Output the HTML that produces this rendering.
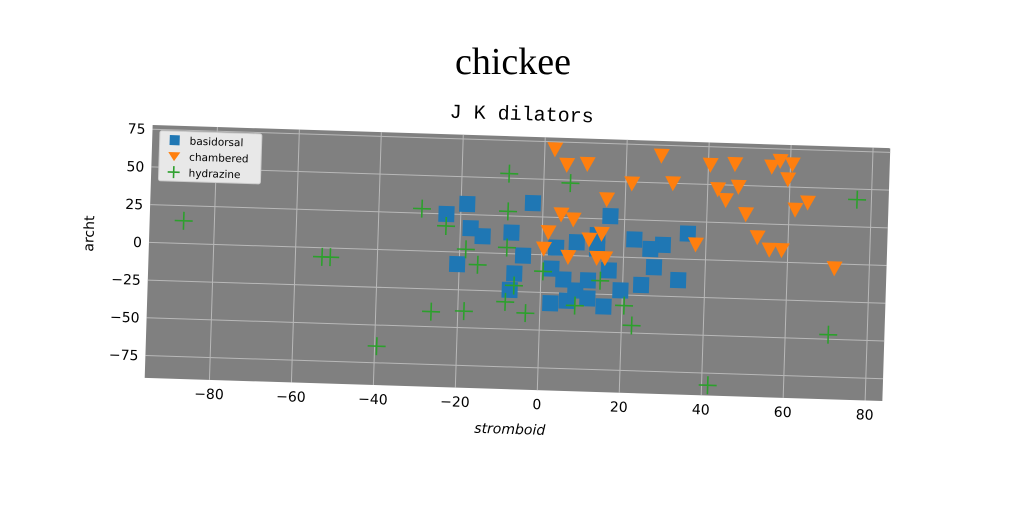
<!DOCTYPE html>
<html><head><meta charset="utf-8"><style>
html,body{margin:0;padding:0;background:#fff;width:1024px;height:512px;overflow:hidden}
text{font-family:"DejaVu Sans","Liberation Sans",sans-serif}
</style></head><body>
<svg id="chart" width="1024" height="512" xmlns="http://www.w3.org/2000/svg">
<text x="513" y="74" text-anchor="middle" font-size="38" style="font-family:'Liberation Serif',serif">chickee</text>
<g id="plot" transform="rotate(1.8 517.5 263)"></g>
</svg>
<script>
const xTicks=[-80,-60,-40,-20,0,20,40,60,80];
const yTicks=[-75,-50,-25,0,25,50,75];
const basX=[-23.5,-18.5,-17.5,-14.5,-20.5,-7.5,-2.5,-4.5,-6.5,-7.5,2.5,5.5,2.5,6.5,8.5,11.5,13.5,16.5,13.5,15.5,16.5,19.5,22.5,24.5,27.5,29.5,33.5,35.5,26.5,3.5,8.5,11.5];
const basY=[25,32,16,11,-8,14,34,-1,-13,-24,-9,-16,-32,-30,-23,-16,14,27,5,-33,-9,-22,12,-18,-6,9,-14,17,6,5,9,-28];
const chaX=[2.5,5.5,10.5,15.5,21.5,28.5,31.5,40.5,42.5,46.5,47.5,44.5,49.5,55.5,57.5,60.5,59.5,61.5,64.5,52.5,55.5,58.5,71.5,4.5,7.5,0.5,1.5,6.5,11.5,13.5,15.5,14.5,37.5];
const chaY=[70,60,61,38,49,68,50,63,47,64,49,40,31,63,67,65,55,35,40,16,8,8,-3,27,24,4,15,-1,11,-1,-1,15,10];
const hydX=[-87.5,-53.5,-51.5,-39.5,-26.5,-18.5,-29.5,-23.5,-18.5,-15.5,-8.5,-8.5,-8.5,-6.5,-3.5,0.5,6.5,8.5,14.5,20.5,22.5,41.5,70.5,76.5,-8.5];
const hydY=[15,-6,-6,-64,-40,-39,28,17,2,-8,53,28,4,-21,-39,-11,48,-33,-16,-32,-45,-83,-47,43,-32];
const L=148.5,R=886.5,T=136.5,B=389.5,X0=-95.8,X1=84.2,Y0=-89.8,Y1=77.8;
const sx=v=>L+(v-X0)/(X1-X0)*(R-L);
const sy=v=>B-(v-Y0)/(Y1-Y0)*(B-T);
const NS="http://www.w3.org/2000/svg";
const g=document.getElementById('plot');
function el(t,a,p){const e=document.createElementNS(NS,t);for(const k in a)e.setAttribute(k,a[k]);(p||g).appendChild(e);return e;}
const bg=el('rect',{x:L,y:T,width:R-L,height:B-T,fill:'#808080'});


xTicks.forEach(v=>{
 const l=el('line',{x1:sx(v),x2:sx(v),y1:T,y2:B,stroke:'#b8b8b8','stroke-width':1});
 
 
 const t=el('text',{x:sx(v),y:B+19,'text-anchor':'middle','font-size':14});
 t.textContent=v<0?'\u2212'+(-v):v;
 
 
});
yTicks.forEach(v=>{
 const l=el('line',{x1:L,x2:R,y1:sy(v),y2:sy(v),stroke:'#b8b8b8','stroke-width':1});
 
 
 const t=el('text',{x:L-7,y:sy(v)+5,'text-anchor':'end','font-size':14});
 t.textContent=v<0?'\u2212'+(-v):v;
 
 
});
basX.forEach((v,i)=>{
 const m=el('rect',{x:sx(v)-8,y:sy(basY[i])-8,width:16,height:16,fill:'#1f77b4'});
 
 
});
chaX.forEach((v,i)=>{
 const x=sx(v),y=sy(chaY[i]);
 const m=el('polygon',{points:`${x-8},${y-7} ${x+8},${y-7} ${x},${y+8}`,fill:'#ff7f0e'});
 
 
});
hydX.forEach((v,i)=>{
 const x=sx(v),y=sy(hydY[i]);
 const m=el('path',{d:`M${x-9},${y}H${x+9}M${x},${y-9}V${y+9}`,stroke:'#2ca02c','stroke-width':1.6,fill:'none'});
 
 
});
const lg=el('g',{});


el('rect',{x:156,y:142,width:102,height:50,fill:'#e8e8e8',stroke:'#ccc',rx:2},lg);
el('rect',{x:166,y:146,width:10,height:10,fill:'#1f77b4'},lg);
el('polygon',{points:'165,163 177,163 171,172',fill:'#ff7f0e'},lg);
el('path',{d:'M165,183H177M171,177V189',stroke:'#2ca02c','stroke-width':1.6},lg);
[['basidorsal',155],['chambered',171],['hydrazine',187]].forEach(([s,y])=>{
 const t=el('text',{x:186,y:y,'font-size':10.5},lg);t.textContent=s;
 
 
});
const st=el('text',{x:517,y:120,'text-anchor':'middle','font-size':20,style:"font-family:'Liberation Mono',monospace"});
st.textContent='J K dilators';


const xl=el('text',{x:515,y:434,'text-anchor':'middle','font-size':14,'font-style':'italic'});
xl.textContent='stromboid';


const yl=el('text',{x:0,y:0,'text-anchor':'middle','font-size':14,transform:'translate(93,247) rotate(-90)'});
yl.textContent='archt';


</script>
</body></html>
